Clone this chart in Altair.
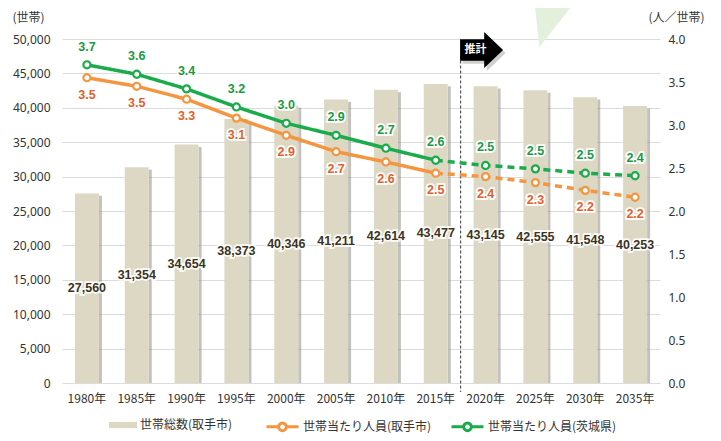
import altair as alt
import pandas as pd

years = ["1980年", "1985年", "1990年", "1995年", "2000年", "2005年",
         "2010年", "2015年", "2020年", "2025年", "2030年", "2035年"]
households = [27560, 31354, 34654, 38373, 40346, 41211,
              42614, 43477, 43145, 42555, 41548, 40253]
toride = [3.55, 3.45, 3.30, 3.08, 2.88, 2.69, 2.57, 2.44, 2.40, 2.33, 2.24, 2.16]
toride_labels = ["3.5", "3.5", "3.3", "3.1", "2.9", "2.7", "2.6", "2.5", "2.4", "2.3", "2.2", "2.2"]
ibaraki = [3.70, 3.59, 3.42, 3.21, 3.02, 2.88, 2.73, 2.59, 2.53, 2.49, 2.44, 2.41]
ibaraki_labels = ["3.7", "3.6", "3.4", "3.2", "3.0", "2.9", "2.7", "2.6", "2.5", "2.5", "2.5", "2.4"]
first_estimate = 8  # index of first projected year (2020年)

S_BAR = "世帯総数(取手市)"
S_TORIDE = "世帯当たり人員(取手市)"
S_IBARAKI = "世帯当たり人員(茨城県)"

BAR_COLOR = "#dcd8c3"
ORANGE = "#f5953f"
ORANGE_TXT = "#e2602e"
GREEN = "#1aab4b"
GREEN_TXT = "#1a9a46"
FONT = "Noto Sans CJK JP"
NUM_FONT = "'Liberation Sans', Arial, sans-serif"

bars_df = pd.DataFrame({"year": years, "households": households,
                        "series": [S_BAR] * len(years)})

rows = []
for i, y in enumerate(years):
    for s, vals, labs in ((S_TORIDE, toride, toride_labels), (S_IBARAKI, ibaraki, ibaraki_labels)):
        if i <= first_estimate - 1:
            rows.append({"year": y, "series": s, "value": vals[i], "label": labs[i], "phase": "実績", "show": 1})
        if i >= first_estimate - 1:
            rows.append({"year": y, "series": s, "value": vals[i], "label": labs[i], "phase": "推計",
                         "show": 1 if i >= first_estimate else 0})
lines_df = pd.DataFrame(rows)

W, H = 598, 344

x_scale = alt.Scale(domain=years, paddingInner=0, paddingOuter=0)
x_axis = alt.Axis(title=None, labelAngle=0, labelAlign="center", labelBaseline="top",
                  bandPosition=0.5, ticks=False, domain=False, grid=False,
                  labelFont=FONT, labelFontSize=12, labelColor="#333333",
                  labelPadding=10)


def xe(bp=None):
    if bp is None:
        return alt.X("year:N", sort=years, scale=x_scale, axis=x_axis)
    return alt.X("year:N", sort=years, scale=x_scale, axis=x_axis, bandPosition=bp)


left_scale = alt.Scale(domain=[0, 50000], nice=False, zero=True)
left_axis = alt.Axis(values=list(range(0, 50001, 5000)), format=",d", title="(世帯)",
                     titleAngle=0, titleAlign="left", titleBaseline="middle",
                     titleX=-50, titleY=-22, titleFont=FONT, titleFontSize=12,
                     titleFontWeight="normal", titleColor="#333333",
                     labelFont="Noto Sans", labelFontSize=12, labelColor="#333333",
                     labelPadding=12, ticks=False, domain=False,
                     grid=True, gridColor="#dcdcdc", gridWidth=1)
right_scale = alt.Scale(domain=[0, 4], nice=False, zero=True)
right_axis = alt.Axis(orient="right", values=[0, 0.5, 1, 1.5, 2, 2.5, 3, 3.5, 4], format=".1f",
                      title="(人／世帯)", titleAngle=0, titleAlign="left",
                      titleBaseline="middle", titleX=-12, titleY=-22,
                      titleFont=FONT, titleFontSize=12, titleFontWeight="normal",
                      titleColor="#333333",
                      labelFont="Noto Sans", labelFontSize=12, labelColor="#333333",
                      labelPadding=8, ticks=False, domain=False, grid=False)


def yl(field):
    return alt.Y(field, type="quantitative", scale=left_scale, axis=left_axis)


def yr(field):
    return alt.Y(field, type="quantitative", scale=right_scale, axis=right_axis)


base_bar = alt.Chart(bars_df)

# decorative pale triangle at top (placed through the scales)
deco_df = pd.DataFrame({"year": ["2025年"], "v": [52700]})
deco = alt.Chart(deco_df).mark_point(
    shape="M-0.67,-0.9 L1.12,-0.9 L-0.46,1.12 Z", size=2304, filled=True,
    fill="#e3f0dc", opacity=1, strokeWidth=0
).encode(x=xe(0.8), y=yl("v"))

shadow = base_bar.mark_rule(color="#8f8e86", opacity=0.55, strokeWidth=3).encode(
    x=xe(0.771), y=yl("shadow_top"), y2="zero:Q"
).transform_calculate(shadow_top="datum.households - 350", zero="0")

bars = base_bar.mark_bar(size=24).encode(
    x=xe(), y=yl("households"),
    fill=alt.Fill("series:N", scale=alt.Scale(domain=[S_BAR], range=[BAR_COLOR]),
                  legend=alt.Legend(title=None, orient="none", legendX=47, legendY=372,
                                    symbolType="M-1,-0.22 L1,-0.22 L1,0.22 L-1,0.22 Z",
                                    symbolSize=784, symbolStrokeWidth=0,
                                    labelFont=FONT, labelFontSize=12, labelColor="#333333",
                                    labelOffset=3, padding=0))
)

bar_lab_outline = base_bar.mark_text(font=NUM_FONT, fontWeight="bold", fontSize=12.5,
                                     stroke="white", strokeWidth=3.5, strokeOpacity=0.9,
                                     fill="white").encode(
    x=xe(), y=yl("half"), text=alt.Text("households:Q", format=",")
).transform_calculate(half="datum.households / 2")

bar_lab = base_bar.mark_text(font=NUM_FONT, fontWeight="bold", fontSize=12.5,
                             color="#3b3423").encode(
    x=xe(), y=yl("half"), text=alt.Text("households:Q", format=",")
).transform_calculate(half="datum.households / 2")

# boundary between actual and projected (right edge of 2015年 band)
div_df = pd.DataFrame({"year": [years[first_estimate - 1]], "top": [47600], "bottom": [-1300]})
divider = alt.Chart(div_df).mark_rule(color="#333333", strokeWidth=1, strokeDash=[3, 2]).encode(
    x=xe(1.0), y=yl("top"), y2="bottom:Q"
)

ARROW = "M-1,-0.5 L0.12,-0.5 L0.12,-0.84 L1,0 L0.12,0.84 L0.12,0.5 L-1,0.5 Z"
arrow_df = pd.DataFrame({"year": [years[first_estimate]], "v": [48400], "t": ["推計"]})
arrow_shadow = alt.Chart(arrow_df).mark_point(
    shape=ARROW, size=1850, filled=True, fill="#777777", opacity=0.35, strokeWidth=0
).encode(x=xe(0.47), y=yl("v2")).transform_calculate(v2="datum.v - 450")
arrow = alt.Chart(arrow_df).mark_point(
    shape=ARROW, size=1850, filled=True, fill="#000000", opacity=1, strokeWidth=0
).encode(x=xe(0.42), y=yl("v"))
arrow_text = alt.Chart(arrow_df).mark_text(font=FONT, fontWeight="bold", fontSize=11,
                                           color="white").encode(
    x=xe(0.3), y=yl("v"), text="t:N"
)

left = alt.layer(deco, shadow, bars, bar_lab_outline, bar_lab, divider,
                 arrow_shadow, arrow, arrow_text)

stroke_enc = alt.Stroke("series:N",
                        scale=alt.Scale(domain=[S_TORIDE, S_IBARAKI], range=[ORANGE, GREEN]),
                        legend=alt.Legend(title=None, orient="none", direction="horizontal",
                                          legendX=203, legendY=370,
                                          symbolType="M-1,0 L-0.24,0 M0.24,0 L1,0 M-0.24,0 A0.24,0.24 0 1,1 0.24,0 A0.24,0.24 0 1,1 -0.24,0",
                                          symbolSize=1024, symbolStrokeWidth=3,
                                          symbolFillColor="white",
                                          labelFont=FONT, labelFontSize=12,
                                          labelColor="#333333", labelOffset=3,
                                          columnPadding=13, padding=0))

base_line = alt.Chart(lines_df)
lines = base_line.mark_line(strokeWidth=3.5).encode(
    x=xe(), y=yr("value"),
    stroke=stroke_enc,
    strokeDash=alt.StrokeDash("phase:N",
                              scale=alt.Scale(domain=["実績", "推計"], range=[[1, 0], [7, 5]]),
                              legend=None),
    detail="phase:N"
)
pts = base_line.transform_filter("datum.show == 1").mark_point(
    filled=True, fill="white", size=50, strokeWidth=2.2, opacity=1
).encode(x=xe(), y=yr("value"), stroke=stroke_enc)


def value_labels(series, color, dy):
    b = base_line.transform_filter(f"datum.show == 1 && datum.series == '{series}'")
    o = b.mark_text(font=NUM_FONT, fontWeight="bold", fontSize=12.5, dy=dy,
                    stroke="white", strokeWidth=3.5, fill="white").encode(
        x=xe(), y=yr("value"), text="label:N")
    f = b.mark_text(font=NUM_FONT, fontWeight="bold", fontSize=12.5, dy=dy,
                    color=color).encode(
        x=xe(), y=yr("value"), text="label:N")
    return [o, f]


right = alt.layer(lines, pts, *value_labels(S_IBARAKI, GREEN_TXT, -18),
                  *value_labels(S_TORIDE, ORANGE_TXT, 17))

chart = alt.layer(left, right).resolve_scale(
    y="independent", fill="independent", stroke="independent"
).properties(
    width=W, height=H,
    autosize=alt.AutoSizeParams(type="none"),
    padding={"left": 54, "top": 31, "right": 53, "bottom": 50},
    background="white"
).configure_view(stroke=None)

chart.save("out.html", embed_options={"renderer": "svg", "actions": False})
